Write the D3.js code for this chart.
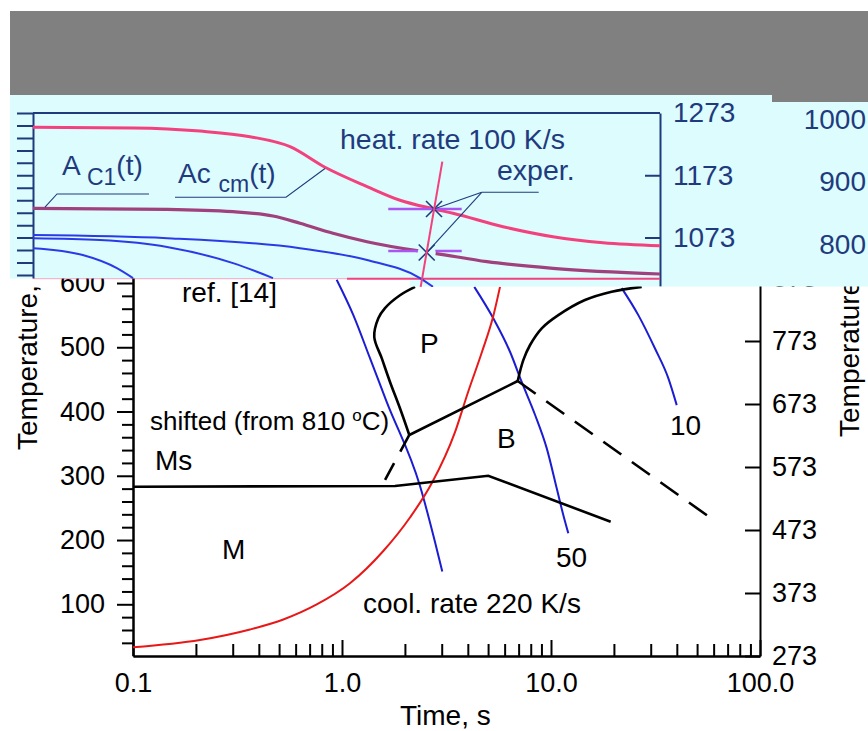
<!DOCTYPE html>
<html>
<head>
<meta charset="utf-8">
<script src="https://cdn.jsdelivr.net/npm/d3@7"></script>
<style>
  body { margin: 0; background: #fff; }
  svg { display: block; }
</style>
</head>
<body>
<div id="chart"></div>
<script>
/* CONSTANTS AND GLOBALS */
const W = 868, H = 731
const FONT = '"Liberation Sans", Arial, sans-serif'
const INK = "#1f3b7d"

// time axis (s) and temperature axes
const timeTicks = [0.1, 1, 10, 100]
const timeLabels = ["0.1", "1.0", "10.0", "100.0"]
const timeMinor = [0.2, 0.3, 0.4, 0.5, 0.6, 0.7, 0.8, 0.9, 2, 3, 4, 5, 6, 7, 8, 9, 20, 30, 40, 50, 60, 70, 80, 90]
const tempCTicks = [100, 200, 300, 400, 500, 600]
const tempCMinor = [40, 60, 80, 120, 140, 160, 180, 220, 240, 260, 280, 320, 340, 360, 380, 420, 440, 460, 480, 520, 540, 560, 580, 620, 640]
const tempKTicks = [273, 373, 473, 573, 673, 773, 873]

// main diagram: [time s, temperature C]
const coolRed = [[0.1, 33], [0.209, 44.4], [0.363, 60.8], [0.524, 76.3], [0.757, 99.7], [1.092, 132.7], [1.576, 182.9],
  [2.115, 235.1], [2.687, 288.3], [3.473, 368], [4.008, 430], [4.677, 493], [5.279, 547], [5.702, 594]]
const cool220 = [[0.943, 605], [1.133, 550], [1.361, 483], [1.636, 415], [2.362, 284], [2.786, 197], [3.019, 151]]
const cool50 = [[4.295, 594], [5.296, 545], [6.366, 493], [7.241, 446], [8.385, 395], [9.537, 343], [10.65, 280.5], [11.45, 239], [12.1, 210.5]]
const cool10 = [[21.79, 592], [26.17, 550], [31.45, 498], [36.41, 452], [39.95, 410]]
const pearliteLeft = [[2.236, 594], [1.894, 581], [1.606, 561], [1.492, 545], [1.427, 516], [1.549, 483], [1.697, 446], [1.894, 405], [2.099, 363.5]]
const pearliteRight = [[6.93, 447.5], [7.37, 480], [7.94, 503.5], [9.03, 529.5], [10.84, 550], [14.54, 573.5], [19.51, 586.5], [27.16, 594]]
const bainiteTop = [[2.099, 363.5], [6.93, 447.5]]
const msLine = [[0.1, 283], [1.793, 284], [5.01, 300], [19.3, 228.5]]
const dashLeft = [[2.099, 363.5], [1.549, 284]]
const dashRight = [[6.93, 447.5], [60.9, 229.6]]

// inset: [time s, temperature K]
const acmCurve = [[0.1, 1250], [0.301, 1249], [0.63, 1244], [1.092, 1235], [1.697, 1219], [2.495, 1186], [3.964, 1155], [5.702, 1133],
  [8.293, 1119], [10.22, 1112], [17.74, 1090.5], [30.76, 1074.4], [53.37, 1064.8], [100, 1060]]
const ac1Curve = [[0.1, 1120], [0.438, 1118.4], [0.906, 1114.6], [1.407, 1107.7], [1.894, 1096], [2.725, 1080], [3.964, 1066.4],
  [6.876, 1052], [8.385, 1047.8], [14.87, 1034.3], [30.76, 1023.7], [100, 1014.6]]
const insetCoolA = [[0.1, 1077], [0.438, 1072], [1.894, 1056], [3.964, 1037], [7.107, 1008], [8.2, 994]]
const insetCoolB = [[0.1, 1072], [0.209, 1069], [0.438, 1058], [0.906, 1032], [1.407, 1008]]
const insetCoolC = [[0.1, 1056], [0.173, 1045], [0.252, 1024], [0.301, 1008]]
const heatRate = [[9.087, 1195], [7.161, 994]]
const experPoints = [[8.293, 1119], [7.652, 1049]]
const experBars = [[5.01, 11.25, 1119], [5.01, 11.25, 1051.5]]
const insetLeftTicks = d3.range(1273, 1000, -20)
const insetRightTicks = [1273, 1173, 1073]
const insetCelsius = [1000, 900, 800]
const bottomEdge = 1007

// annotation leaders (inset coords)
const leaderAc1 = [[0.359, 1143], [0.1303, 1143], [0.1141, 1122]]
const leaderAcm = [[0.478, 1137.7], [1.624, 1137.7], [2.495, 1184]]
const leaderExp = [[26.28, 1145.7], [14.03, 1145.7]]

/* SCALES */
const x = d3.scaleLog().domain([0.1, 100]).range([133, 760])
const yC = d3.scaleLinear().domain([20, 640]).range([655.7, 257.3])
const yK = d3.scaleLinear().domain([273, 913]).range([656, 252.8])
const xi = d3.scaleLog().domain([0.1, 100]).range([33, 660])
const yi = d3.scaleLinear().domain([1273, 995]).range([113, 113 + 278 * 0.623])

const svg = d3.select("#chart").append("svg")
  .attr("width", W).attr("height", H)
  .attr("font-family", FONT)
svg.append("rect").attr("width", W).attr("height", H).attr("fill", "#fff")

const main = svg.append("g")

function styleAxis(g, size, color) {
  g.attr("font-family", FONT).attr("font-size", size).attr("color", color || "#000")
  g.selectAll("line, path").attr("stroke-width", 2)
}

// x axis
main.append("g").attr("transform", "translate(0,656)")
  .call(d3.axisBottom(x).tickValues(timeMinor).tickSizeInner(-12).tickSizeOuter(0).tickFormat(""))
  .call(styleAxis, 27)
main.append("g").attr("transform", "translate(0,656)")
  .call(d3.axisBottom(x).tickValues(timeTicks).tickSizeInner(-16).tickSizeOuter(0).tickPadding(17)
    .tickFormat((d, i) => timeLabels[i]))
  .call(styleAxis, 27)

// left axis (C)
main.append("g").attr("transform", "translate(133,0)")
  .call(d3.axisLeft(yC).tickValues(tempCMinor).tickSizeInner(11).tickSizeOuter(0).tickFormat(""))
  .call(styleAxis, 27)
main.append("g").attr("transform", "translate(133,0)")
  .call(d3.axisLeft(yC).tickValues(tempCTicks).tickSizeInner(16).tickSizeOuter(0).tickPadding(12).tickFormat(d => d))
  .call(styleAxis, 27)

// right axis (K)
main.append("g").attr("transform", "translate(760,0)")
  .call(d3.axisRight(yK).tickValues(tempKTicks).tickSizeInner(-15).tickSizeOuter(0).tickPadding(12).tickFormat(d => d))
  .call(styleAxis, 27)

main.append("text").attr("x", 400).attr("y", 725).attr("font-size", 28).text("Time, s")
main.append("text").attr("transform", "translate(37,450) rotate(-90)").attr("font-size", 28).text("Temperature, \u00b0C")
main.append("text").attr("transform", "translate(859,437) rotate(-90)").attr("font-size", 28).text("Temperature, K")

const lineC = d3.line().x(d => x(d[0])).y(d => yC(d[1])).curve(d3.curveCatmullRom.alpha(0.5))
const lineCmono = d3.line().x(d => x(d[0])).y(d => yC(d[1])).curve(d3.curveMonotoneX)
const lineCstraight = d3.line().x(d => x(d[0])).y(d => yC(d[1]))

// cooling curves
;[cool220, cool50, cool10].forEach(c => {
  main.append("path").attr("d", lineCmono(c)).attr("fill", "none").attr("stroke", "#1c1cd2").attr("stroke-width", 2)
})
main.append("path").attr("d", lineCmono(coolRed)).attr("fill", "none").attr("stroke", "#e81818").attr("stroke-width", 2)

// transformation lines
;[pearliteLeft, pearliteRight].forEach(c => {
  main.append("path").attr("d", lineC(c)).attr("fill", "none").attr("stroke", "#000").attr("stroke-width", 2.6)
})
;[bainiteTop, msLine].forEach(c => {
  main.append("path").attr("d", lineCstraight(c)).attr("fill", "none").attr("stroke", "#000").attr("stroke-width", 2.6)
})
main.append("path").attr("d", lineCstraight(dashLeft)).attr("fill", "none").attr("stroke", "#000")
  .attr("stroke-width", 2.6).attr("stroke-dasharray", "19,13")
main.append("path").attr("d", lineCstraight(dashRight)).attr("fill", "none").attr("stroke", "#000")
  .attr("stroke-width", 2.6).attr("stroke-dasharray", "22,13")

// region labels
const mainLabels = [
  { t: "ref. [14]", x: 182, y: 302 },
  { t: "Ms", x: 155, y: 470 },
  { t: "M", x: 222, y: 559 },
  { t: "P", x: 420, y: 353 },
  { t: "B", x: 497, y: 448 },
  { t: "10", x: 670, y: 435 },
  { t: "50", x: 556, y: 567 },
  { t: "cool. rate 220 K/s", x: 363, y: 613 }
]
main.selectAll(".lbl").data(mainLabels).join("text")
  .attr("class", "lbl").attr("x", d => d.x).attr("y", d => d.y).attr("font-size", 28).text(d => d.t)

const shifted = main.append("text").attr("x", 150).attr("y", 430).attr("font-size", 26)
shifted.append("tspan").text("shifted (from 810 ")
shifted.append("tspan").attr("font-size", 17).attr("dy", -9).text("o")
shifted.append("tspan").attr("dy", 9).text("C)")

/* TOP OVERLAY */
svg.append("rect").attr("x", 10).attr("y", 11).attr("width", W - 10).attr("height", 84).attr("fill", "#808080")

const cyan = "#dcfcfd"
svg.append("rect").attr("x", 10).attr("y", 95).attr("width", W - 10).attr("height", 183.5).attr("fill", cyan)
svg.append("rect").attr("x", 410).attr("y", 278).attr("width", W - 410).attr("height", 8.5).attr("fill", cyan)
svg.append("rect").attr("x", 772).attr("y", 94).attr("width", W - 772).attr("height", 8).attr("fill", "#808080")

const defs = svg.append("defs")
defs.append("clipPath").attr("id", "plotClip").append("rect")
  .attr("x", 33).attr("y", 100).attr("width", 628).attr("height", 187)
const cyanClip = defs.append("clipPath").attr("id", "cyanClip")
cyanClip.append("rect").attr("x", 0).attr("y", 95).attr("width", W).attr("height", 183.5)
cyanClip.append("rect").attr("x", 410).attr("y", 278).attr("width", W - 410).attr("height", 8.5)

const inset = svg.append("g").attr("clip-path", "url(#cyanClip)")

// inset frame and axes
inset.append("g").attr("transform", "translate(33,0)")
  .call(d3.axisLeft(yi).tickValues(insetLeftTicks).tickSizeInner(16).tickSizeOuter(0).tickFormat(""))
  .call(styleAxis, 28, INK)
inset.append("line").attr("x1", xi(0.1)).attr("x2", xi(100)).attr("y1", yi(1273)).attr("y2", yi(1273))
  .attr("stroke", INK).attr("stroke-width", 2)
inset.append("g").attr("transform", "translate(660,0)")
  .call(d3.axisRight(yi).tickValues(insetRightTicks).tickSizeInner(-15).tickSizeOuter(0).tickPadding(13).tickFormat(d => d))
  .call(styleAxis, 28, INK)
  .call(g => g.selectAll(".tick").filter(d => d === 1273).select("line").remove())

inset.selectAll(".cel").data(insetCelsius).join("text")
  .attr("class", "cel").attr("x", 866).attr("y", d => yi(d + 273) + 7).attr("dy", "0.32em")
  .attr("text-anchor", "end").attr("font-size", 28).attr("fill", INK).text(d => d)

const plot = svg.append("g").attr("clip-path", "url(#plotClip)")
const lineI = d3.line().x(d => xi(d[0])).y(d => yi(d[1])).curve(d3.curveMonotoneX)
const lineIstraight = d3.line().x(d => xi(d[0])).y(d => yi(d[1]))

// faint bottom boundary, stronger on the right
plot.append("line").attr("x1", xi(0.1)).attr("x2", xi(3.18)).attr("y1", yi(bottomEdge)).attr("y2", yi(bottomEdge))
  .attr("stroke", "#f2417c").attr("stroke-width", 1).attr("opacity", 0.45)
plot.append("line").attr("x1", xi(3.18)).attr("x2", xi(100)).attr("y1", yi(bottomEdge)).attr("y2", yi(bottomEdge))
  .attr("stroke", "#f2417c").attr("stroke-width", 2)

;[insetCoolA, insetCoolB, insetCoolC].forEach(c => {
  plot.append("path").attr("d", lineI(c)).attr("fill", "none").attr("stroke", "#2a3ae8").attr("stroke-width", 2)
})
plot.append("path").attr("d", lineI(ac1Curve)).attr("fill", "none").attr("stroke", "#a0407c").attr("stroke-width", 3.2)
plot.append("path").attr("d", lineI(acmCurve)).attr("fill", "none").attr("stroke", "#f2417c").attr("stroke-width", 3)

plot.selectAll(".bar").data(experBars).join("line")
  .attr("class", "bar").attr("x1", d => xi(d[0])).attr("x2", d => xi(d[1]))
  .attr("y1", d => yi(d[2])).attr("y2", d => yi(d[2]))
  .attr("stroke", "#aa55f2").attr("stroke-width", 2.6)

// gap around the lower experimental point
plot.append("circle").attr("cx", xi(experPoints[1][0])).attr("cy", yi(experPoints[1][1])).attr("r", 9).attr("fill", cyan)

svg.append("path").attr("d", lineIstraight(heatRate)).attr("fill", "none").attr("stroke", "#f2417c").attr("stroke-width", 2)

plot.selectAll(".xm").data(experPoints).join("path")
  .attr("class", "xm").attr("transform", d => `translate(${xi(d[0])},${yi(d[1])})`)
  .attr("d", "M-8,-8L8,8M-8,8L8,-8").attr("stroke", INK).attr("stroke-width", 1.6).attr("fill", "none")

// leaders
;[leaderAc1, leaderAcm, leaderExp].forEach(c => {
  plot.append("path").attr("d", lineIstraight(c)).attr("fill", "none").attr("stroke", INK).attr("stroke-width", 1.1)
})
experPoints.forEach(p => {
  plot.append("path").attr("d", lineIstraight([leaderExp[1], p])).attr("fill", "none").attr("stroke", INK).attr("stroke-width", 1.1)
})

// inset texts
svg.append("text").attr("x", 340).attr("y", 149).attr("font-size", 28.5).attr("fill", INK).text("heat. rate 100 K/s")
svg.append("text").attr("x", 497).attr("y", 180).attr("font-size", 28.5).attr("fill", INK).text("exper.")

const tAc1 = svg.append("text").attr("x", 62).attr("y", 175).attr("font-size", 28).attr("fill", INK)
tAc1.append("tspan").text("A ")
tAc1.append("tspan").attr("font-size", 23).attr("dy", 10).text("C1")
tAc1.append("tspan").attr("dy", -10).text("(t)")

const tAcm = svg.append("text").attr("x", 178).attr("y", 183).attr("font-size", 28).attr("fill", INK)
tAcm.append("tspan").text("Ac ")
tAcm.append("tspan").attr("font-size", 23).attr("dy", 9).text("cm")
tAcm.append("tspan").attr("dy", -9).text("(t)")
</script>
</body>
</html>
